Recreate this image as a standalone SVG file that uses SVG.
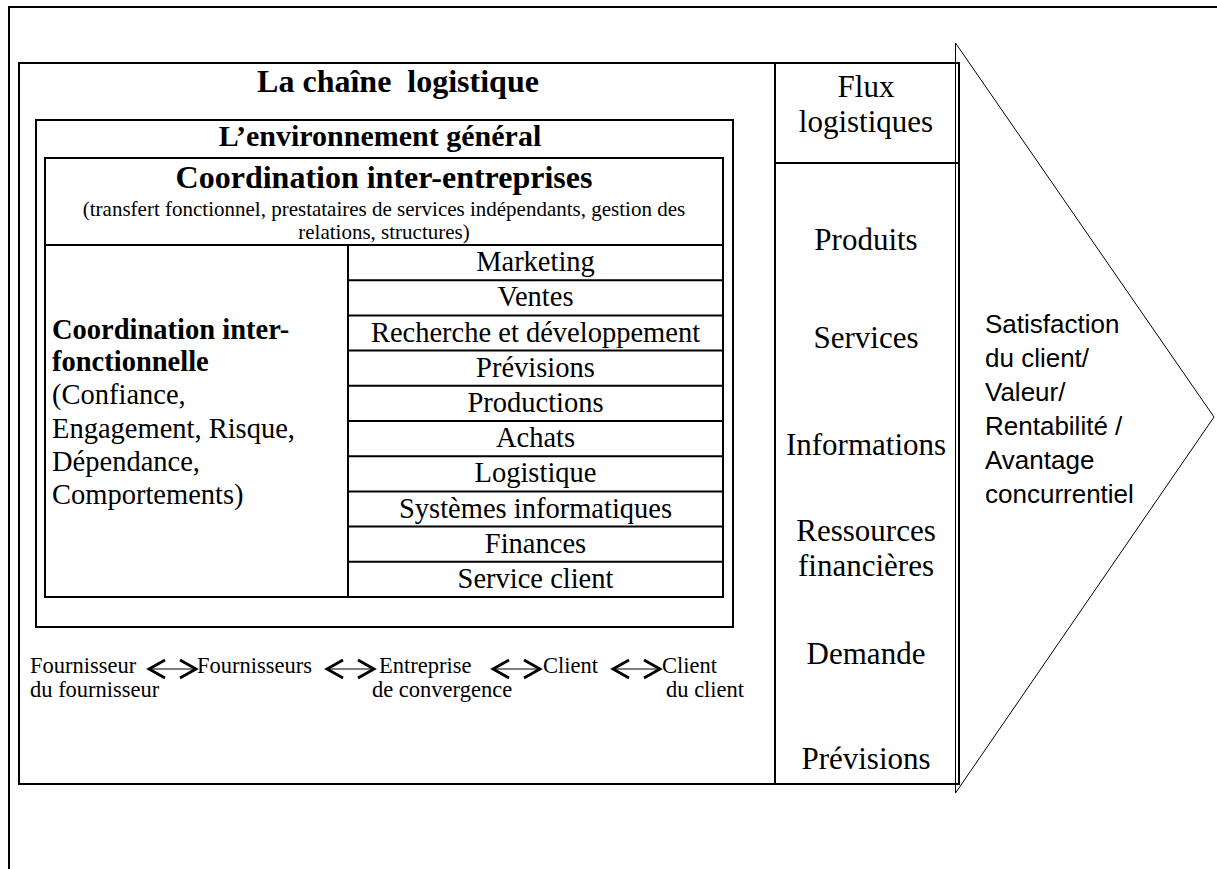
<svg xmlns="http://www.w3.org/2000/svg" width="1217" height="869" viewBox="0 0 1217 869">
<style>
.b{fill:none;stroke:#000;stroke-width:2}
.t{stroke:#000;stroke-width:1;fill:none}
.s{font-family:"Liberation Serif",serif;fill:#000}
.bd{font-weight:bold}
.c{text-anchor:middle}
.k{font-family:"Liberation Sans",sans-serif;fill:#000}
.ar{fill:none;stroke:#000;stroke-width:2.8}
.sh{stroke:#000;stroke-width:1.2}
</style>
<defs>
<g id="dbl">
<line class="sh" x1="3" y1="0" x2="46" y2="0"/>
<polyline class="ar" points="17,-9 1,0 17,9"/>
<polyline class="ar" points="32,-9 48,0 32,9"/>
</g>
</defs>
<g id="outer">
<polyline class="b" points="1217,7 9,7 9,869"/>
</g>
<g id="chain">
<rect class="b" x="19" y="63" width="940" height="721"/>
<text class="s bd c" x="398" y="92" font-size="32">La chaîne&#160; logistique</text>
</g>
<g id="environment">
<rect class="b" x="36" y="120" width="697" height="507"/>
<text class="s bd c" x="380" y="146" font-size="30">L’environnement général</text>
</g>
<g id="inter-entreprises">
<rect class="b" x="45" y="158" width="678" height="439"/>
<line class="b" x1="45" y1="245" x2="723" y2="245"/>
<text class="s bd c" x="384" y="188" font-size="32">Coordination inter-entreprises</text>
<text class="s c" x="384" y="216" font-size="21">(transfert fonctionnel, prestataires de services indépendants, gestion des</text>
<text class="s c" x="384" y="239" font-size="21">relations, structures)</text>
</g>
<g id="inter-fonctionnelle">
<line class="b" x1="348" y1="245" x2="348" y2="597"/>
<text class="s" x="52" y="339" font-size="28.5"><tspan class="bd">Coordination inter-</tspan><tspan class="bd" x="52" y="371">fonctionnelle</tspan><tspan x="52" y="404">(Confiance,</tspan><tspan x="52" y="438">Engagement, Risque,</tspan><tspan x="52" y="471">Dépendance,</tspan><tspan x="52" y="504">Comportements)</tspan></text>
</g>
<g id="functions">
<line class="b" x1="348" y1="280.2" x2="723" y2="280.2"/>
<line class="b" x1="348" y1="315.4" x2="723" y2="315.4"/>
<line class="b" x1="348" y1="350.6" x2="723" y2="350.6"/>
<line class="b" x1="348" y1="385.8" x2="723" y2="385.8"/>
<line class="b" x1="348" y1="421" x2="723" y2="421"/>
<line class="b" x1="348" y1="456.2" x2="723" y2="456.2"/>
<line class="b" x1="348" y1="491.4" x2="723" y2="491.4"/>
<line class="b" x1="348" y1="526.6" x2="723" y2="526.6"/>
<line class="b" x1="348" y1="561.8" x2="723" y2="561.8"/>
<g class="s c" font-size="28.5">
<text x="535.5" y="271">Marketing</text>
<text x="535.5" y="306">Ventes</text>
<text x="535.5" y="342">Recherche et développement</text>
<text x="535.5" y="377">Prévisions</text>
<text x="535.5" y="412">Productions</text>
<text x="535.5" y="447">Achats</text>
<text x="535.5" y="482">Logistique</text>
<text x="535.5" y="518">Systèmes informatiques</text>
<text x="535.5" y="553">Finances</text>
<text x="535.5" y="588">Service client</text>
</g>
</g>
<g id="flux">
<line class="b" x1="775" y1="63" x2="775" y2="784"/>
<line class="b" x1="775" y1="163" x2="959" y2="163"/>
<g class="s c" font-size="31">
<text x="866" y="97">Flux</text>
<text x="866" y="132">logistiques</text>
<text x="866" y="250">Produits</text>
<text x="866" y="348">Services</text>
<text x="866" y="455">Informations</text>
<text x="866" y="541">Ressources</text>
<text x="866" y="576">financières</text>
<text x="866" y="664">Demande</text>
<text x="866" y="769">Prévisions</text>
</g>
</g>
<g id="result">
<polyline class="t" points="955.5,43 1214,417 955.5,793 955.5,43"/>
<g class="k" font-size="26">
<text x="985" y="333">Satisfaction</text>
<text x="985" y="367">du client/</text>
<text x="985" y="401">Valeur/</text>
<text x="985" y="435">Rentabilité /</text>
<text x="985" y="469">Avantage</text>
<text x="985" y="503">concurrentiel</text>
</g>
</g>
<g id="actors" class="s" font-size="22.5">
<text x="30" y="673">Fournisseur</text>
<text x="30" y="697">du fournisseur</text>
<text x="197" y="673">Fournisseurs</text>
<text x="379" y="673">Entreprise</text>
<text x="372" y="697">de convergence</text>
<text x="543" y="673">Client</text>
<text x="662" y="673">Client</text>
<text x="666" y="697">du client</text>
</g>
<g id="connectors">
<use href="#dbl" x="148" y="669"/>
<use href="#dbl" x="326" y="669"/>
<use href="#dbl" x="492" y="669"/>
<use href="#dbl" x="612" y="669"/>
</g>
</svg>
